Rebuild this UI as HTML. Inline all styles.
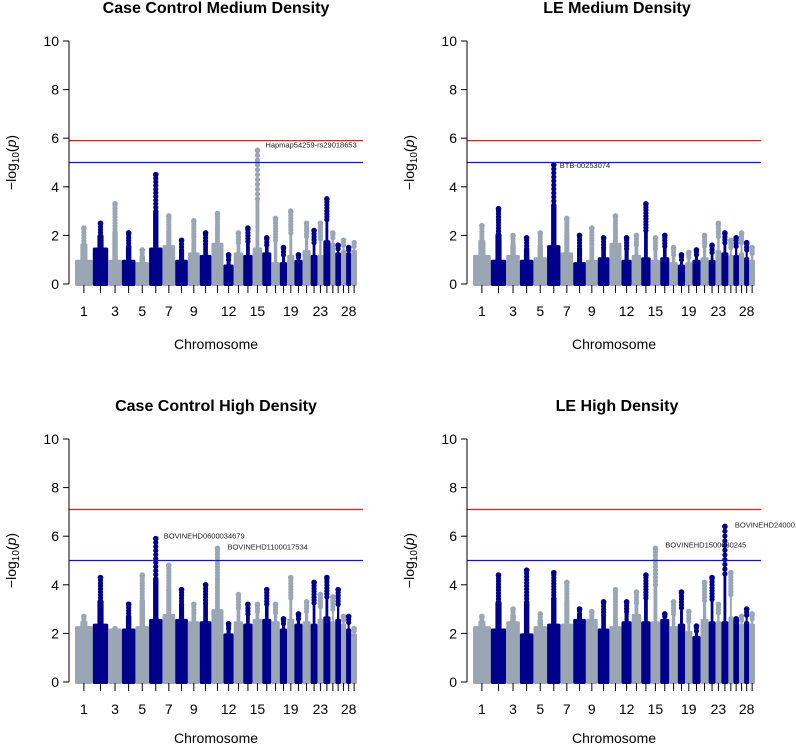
<!DOCTYPE html>
<html><head><meta charset="utf-8"><style>
html,body{margin:0;padding:0;background:#fff;}
svg{display:block;font-family:"Liberation Sans",Arial,sans-serif;}
</style></head><body>
<svg id="chart" width="796" height="747" viewBox="0 0 796 747" xmlns="http://www.w3.org/2000/svg"></svg>
<script>
// chromosome lengths (Mb) used as x-scale
const chromLengths = [158,137,121,121,121,119,113,113,105,104,107,91,84,84,85,81,75,66,64,72,72,61,52,63,43,51,45,46,51];
const tickLabels = ["1","","3","","5","","7","","9","","","12","","","15","","","","19","","","","23","","","","","28",""];
const yTicks = [0,2,4,6,8,10];
const titles = ["Case Control Medium Density","LE Medium Density","Case Control High Density","LE High Density"];
const redThresh = [5.9,5.9,7.1,7.1];
const blueThresh = [5.0,5.0,5.0,5.0];
// peak -log10(p) per chromosome
const peaksCCM = [2.3,2.5,3.3,2.1,1.4,4.5,2.8,1.8,2.6,2.1,2.9,1.2,2.1,2.3,5.5,1.9,2.7,1.5,3.0,1.2,2.5,2.2,2.5,3.5,2.1,1.6,1.8,1.5,1.7];
const peaksLEM = [2.4,3.1,2.0,1.9,2.1,4.9,2.7,2.0,2.3,1.9,2.8,1.9,2.0,3.3,1.9,2.0,1.5,1.2,1.3,1.4,2.0,1.6,2.5,2.1,1.8,1.9,2.1,1.7,1.5];
const peaksCCH = [2.7,4.3,2.2,3.2,4.4,5.9,4.8,3.8,3.2,4.0,5.5,2.4,3.6,3.2,3.2,3.8,3.2,2.6,4.3,2.8,3.3,4.1,3.6,4.3,3.5,3.8,2.7,2.7,2.2];
const peaksLEH = [2.7,4.4,3.0,4.6,2.8,4.5,4.1,3.0,2.9,3.3,3.8,3.3,3.7,4.4,5.5,2.8,3.3,3.7,2.9,2.3,4.1,4.3,3.2,6.4,4.5,2.6,2.7,3.0,2.8];
// dense band height per chromosome
const bulkCCM = [1.0,1.5,1.0,1.0,0.9,1.5,1.6,1.0,1.3,1.2,1.7,0.8,1.3,1.2,1.5,1.3,0.9,0.9,1.2,1.0,1.4,1.2,1.2,1.8,1.7,1.3,1.4,1.3,1.4];
const bulkLEM = [1.2,1.0,1.2,1.0,1.1,1.6,1.3,0.9,1.0,1.1,1.7,1.0,1.2,1.1,1.0,1.1,0.9,0.8,0.9,1.0,1.1,1.0,1.4,1.3,1.2,1.2,1.3,1.1,1.0];
const bulkCCH = [2.3,2.4,2.2,2.2,2.3,2.6,2.8,2.6,2.5,2.5,3.0,2.0,2.5,2.4,2.6,2.6,2.5,2.2,2.6,2.4,2.5,2.4,2.6,2.7,2.5,2.6,2.4,2.2,2.0];
const bulkLEH = [2.3,2.2,2.5,2.0,2.3,2.4,2.4,2.6,2.6,2.2,2.3,2.5,2.8,2.5,2.5,2.6,2.3,2.4,2.1,1.9,2.6,2.5,2.5,2.5,2.7,2.6,2.4,2.5,2.4];
const peakSets = [peaksCCM,peaksLEM,peaksCCH,peaksLEH];
const bulkSets = [bulkCCM,bulkLEM,bulkCCH,bulkLEH];
const annotations = [
  [{chr:15,val:5.5,text:"Hapmap54259-rs29018653",dx:8,dy:-6}],
  [{chr:6,val:4.9,text:"BTB-00253074",dx:6,dy:0}],
  [{chr:6,val:5.9,text:"BOVINEHD0600034679",dx:8,dy:-3},{chr:11,val:5.5,text:"BOVINEHD1100017534",dx:10,dy:-2}],
  [{chr:24,val:6.4,text:"BOVINEHD24000155",dx:10,dy:-2},{chr:15,val:5.5,text:"BOVINEHD1500030245",dx:10,dy:-4}]
];
const panelGeo = [
  {ax:69,x0:75,x1:357,lineEnd:363,y0:284,y10:41,titleY:13,tickLabY:316,xlabY:349,tcx:216},
  {ax:467,x0:473,x1:755,lineEnd:761,y0:284,y10:41,titleY:13,tickLabY:316,xlabY:349,tcx:617},
  {ax:69,x0:75,x1:357,lineEnd:363,y0:682,y10:439,titleY:411,tickLabY:714,xlabY:743,tcx:216},
  {ax:467,x0:473,x1:755,lineEnd:761,y0:682,y10:439,titleY:411,tickLabY:714,xlabY:743,tcx:617}
];
const NS="http://www.w3.org/2000/svg";
const svg=document.getElementById('chart');
function mk(tag,attrs,parent){const e=document.createElementNS(NS,tag);for(const k in attrs)e.setAttribute(k,attrs[k]);(parent||svg).appendChild(e);return e;}
const total=chromLengths.reduce((a,b)=>a+b,0);
const GRAY="#9aa6b3", NAVY="#00008b";
panelGeo.forEach((g,p)=>{
  const grp=mk('g',{});
  
  
  const ys=v=>g.y0-(v/10)*(g.y0-g.y10);
  const xs=mb=>g.x0+(mb/total)*(g.x1-g.x0);
  const t=mk('text',{x:g.tcx,y:g.titleY,'text-anchor':'middle','font-size':16,'font-weight':'bold'},grp);
  t.textContent=titles[p];
  
  
  let cum=0;
  const peaks=peakSets[p], bulk=bulkSets[p];
  chromLengths.forEach((L,i)=>{
    const col=i%2===0?GRAY:NAVY;
    const xa=xs(cum), xb=xs(cum+L), xc=(xa+xb)/2;
    const r=mk('rect',{x:xa,y:ys(bulk[i]),width:xb-xa,height:ys(0)-ys(bulk[i])+2,fill:col,rx:1.5},grp);
    
    
    const mid=(bulk[i]+peaks[i])/2;
    const r2=mk('rect',{x:xa+(xb-xa)*0.3,y:ys(mid),width:(xb-xa)*0.4,height:ys(bulk[i])-ys(mid)+1,fill:col},grp);
    
    
    for(let v=mid;v<=peaks[i]+1e-6;v+=Math.max(0.12,(peaks[i]-mid)/10)){
      const c=mk('circle',{cx:xc,cy:ys(v),r:2.6,fill:col},grp);
      
      
    }
    const pk=mk('circle',{cx:xc,cy:ys(peaks[i]),r:2.8,fill:col},grp);
    
    
    const tk=mk('line',{x1:xc,x2:xc,y1:g.y0+1,y2:g.y0+9,stroke:'#000','stroke-width':1},grp);
    
    
    if(tickLabels[i]){
      const tl=mk('text',{x:xc,y:g.tickLabY,'text-anchor':'middle','font-size':14},grp);
      tl.textContent=tickLabels[i];
      
      
    }
    cum+=L;
  });
  const rl=mk('line',{x1:g.ax,x2:g.lineEnd,y1:ys(redThresh[p]),y2:ys(redThresh[p]),stroke:'#e0201f','stroke-width':1.2},grp);
  
  
  const bl=mk('line',{x1:g.ax,x2:g.lineEnd,y1:ys(blueThresh[p]),y2:ys(blueThresh[p]),stroke:'#1010f0','stroke-width':1.2},grp);
  
  
  const ya=mk('line',{x1:g.ax,x2:g.ax,y1:ys(0),y2:ys(10),stroke:'#000','stroke-width':1},grp);
  
  
  yTicks.forEach(v=>{
    const l=mk('line',{x1:g.ax-6,x2:g.ax,y1:ys(v),y2:ys(v),stroke:'#000'},grp);
    
    
    const tx=mk('text',{x:g.ax-10,y:ys(v)+5,'text-anchor':'end','font-size':14},grp);
    tx.textContent=String(v);
    
    
  });
  const yt=mk('text',{x:0,y:0,'text-anchor':'middle','font-size':14,transform:`translate(${g.ax-53},${(g.y0+g.y10)/2}) rotate(-90)`},grp);
  yt.innerHTML='\u2212log<tspan font-size="10" dy="3">10</tspan><tspan dy="-3">(</tspan><tspan font-style="italic">p</tspan>)';
  
  
  const xt=mk('text',{x:(g.x0+g.x1)/2,y:g.xlabY,'text-anchor':'middle','font-size':14},grp);
  xt.textContent='Chromosome';
  
  
  annotations[p].forEach(a=>{
    let c2=0;for(let k=0;k<a.chr-1;k++)c2+=chromLengths[k];
    const xc=xs(c2+chromLengths[a.chr-1]/2);
    const at=mk('text',{x:xc+a.dx,y:ys(a.val)+a.dy+3,'font-size':7.5,fill:'#222'},grp);
    at.textContent=a.text;
    
    
  });
});
</script>
</body></html>
